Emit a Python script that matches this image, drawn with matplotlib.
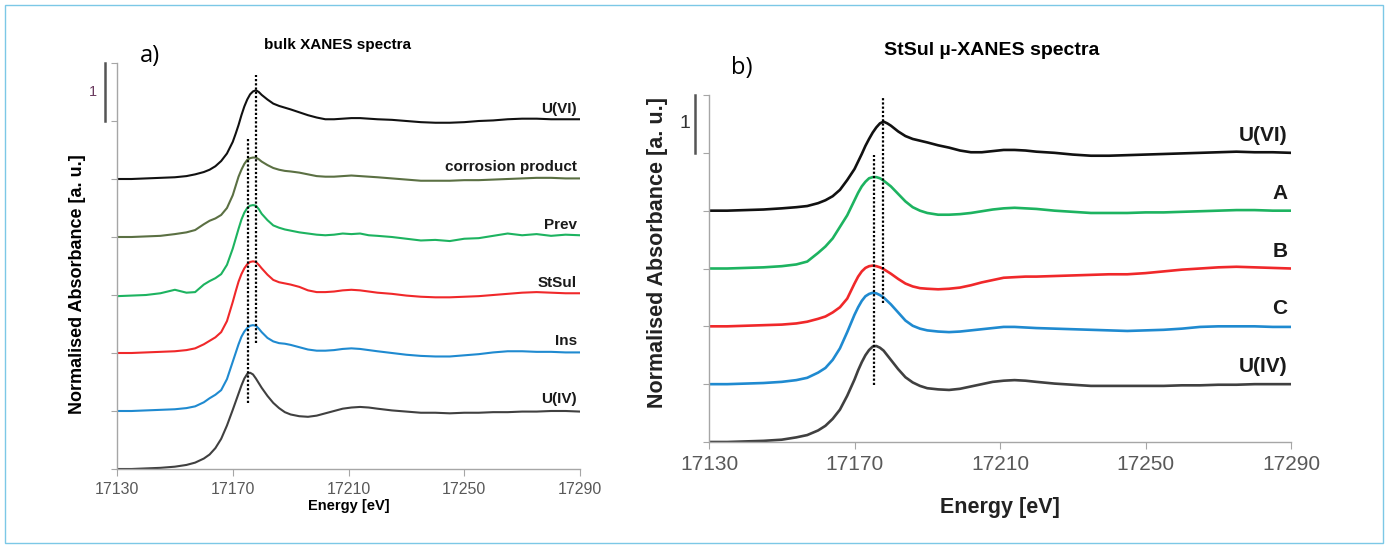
"""Espectros XANES empilhados: (a) bulk e (b) StSul micro-XANES."""
import matplotlib
matplotlib.use("Agg")
import matplotlib.pyplot as plt
import matplotlib.transforms as mtransforms
from matplotlib.patches import Rectangle

plt.rcParams["font.family"] = ["Liberation Sans", "DejaVu Sans"]

# grade de energia comum (eV)
energy = [17130, 17135, 17140, 17145, 17150, 17154, 17157, 17160, 17162, 17164,
          17166, 17168, 17170, 17171, 17172, 17173, 17174, 17175, 17176, 17177,
          17178, 17179, 17180, 17182, 17184, 17186, 17188, 17190, 17193, 17196,
          17199, 17202, 17205, 17208, 17211, 17214, 17217, 17220, 17225, 17230,
          17235, 17240, 17245, 17250, 17255, 17260, 17265, 17270, 17275, 17280,
          17285, 17290]

# --- painel a (de baixo para cima) ---
a_names = ["U(IV)", "Ins", "StSul", "Prev", "corrosion product", "U(VI)"]
a_colors = ["#404040", "#1f8ad0", "#f0282a", "#1db360", "#5b7043", "#111111"]
a_uiv = [0.00, 0.00, 0.01, 0.02, 0.04, 0.07, 0.11, 0.18, 0.25, 0.36,
         0.52, 0.75, 1.02, 1.16, 1.30, 1.44, 1.56, 1.64, 1.66, 1.63,
         1.56, 1.48, 1.40, 1.26, 1.14, 1.05, 0.98, 0.94, 0.91, 0.90,
         0.92, 0.96, 1.00, 1.04, 1.06, 1.07, 1.06, 1.04, 1.01, 0.99,
         0.97, 0.97, 0.96, 0.97, 0.97, 0.98, 0.98, 0.99, 0.99, 1.00,
         1.00, 0.99]
a_ins = [0.00, 0.00, 0.01, 0.02, 0.03, 0.05, 0.08, 0.15, 0.22, 0.28,
         0.36, 0.55, 0.85, 1.00, 1.15, 1.28, 1.37, 1.43, 1.47, 1.48,
         1.47, 1.42, 1.36, 1.26, 1.20, 1.17, 1.16, 1.14, 1.10, 1.06,
         1.04, 1.04, 1.05, 1.07, 1.08, 1.07, 1.05, 1.03, 1.00, 0.97,
         0.95, 0.94, 0.94, 0.96, 0.98, 1.01, 1.03, 1.03, 1.02, 1.02,
         1.01, 1.01]
a_stsul = [0.00, 0.00, 0.01, 0.02, 0.03, 0.05, 0.08, 0.15, 0.21, 0.27,
           0.36, 0.55, 0.88, 1.06, 1.23, 1.36, 1.46, 1.53, 1.57, 1.58,
           1.57, 1.52, 1.46, 1.35, 1.26, 1.22, 1.20, 1.18, 1.14, 1.08,
           1.05, 1.05, 1.06, 1.08, 1.09, 1.08, 1.06, 1.04, 1.02, 0.99,
           0.97, 0.96, 0.96, 0.97, 0.98, 1.00, 1.02, 1.04, 1.05, 1.04,
           1.03, 1.03]
a_prev = [-0.02, -0.01, 0.00, 0.03, 0.09, 0.04, 0.05, 0.18, 0.24, 0.29,
          0.36, 0.52, 0.80, 0.97, 1.14, 1.30, 1.42, 1.50, 1.54, 1.55,
          1.54, 1.48, 1.40, 1.29, 1.20, 1.16, 1.13, 1.11, 1.08, 1.06,
          1.04, 1.03, 1.04, 1.06, 1.05, 1.06, 1.03, 1.02, 1.00, 0.97,
          0.94, 0.95, 0.93, 0.97, 0.98, 1.02, 1.06, 1.03, 1.05, 1.02,
          1.04, 1.03]
a_corr = [0.00, 0.00, 0.01, 0.02, 0.05, 0.08, 0.12, 0.22, 0.28, 0.32,
          0.38, 0.50, 0.72, 0.88, 1.04, 1.16, 1.26, 1.33, 1.36, 1.37,
          1.37, 1.34, 1.30, 1.24, 1.19, 1.16, 1.14, 1.13, 1.11, 1.08,
          1.05, 1.04, 1.04, 1.05, 1.06, 1.05, 1.04, 1.03, 1.01, 0.99,
          0.97, 0.97, 0.97, 0.98, 0.98, 0.99, 1.00, 1.01, 1.02, 1.02,
          1.01, 1.01]
a_uvi = [0.00, 0.00, 0.01, 0.02, 0.03, 0.05, 0.08, 0.12, 0.16, 0.22,
         0.31, 0.44, 0.64, 0.78, 0.93, 1.10, 1.25, 1.37, 1.46, 1.51,
         1.53, 1.50, 1.45, 1.37, 1.30, 1.26, 1.23, 1.20, 1.15, 1.10,
         1.06, 1.03, 1.03, 1.04, 1.05, 1.05, 1.04, 1.03, 1.02, 1.00,
         0.98, 0.97, 0.97, 0.98, 1.00, 1.01, 1.03, 1.04, 1.04, 1.03,
         1.03, 1.03]
# linhas pontilhadas: energia, y inicial, y final
a_marks = [(17175.3, 1.14, 5.71), (17178.0, 2.17, 6.79)]

# --- painel b (de baixo para cima) ---
b_names = ["U(IV)", "C", "B", "A", "U(VI)"]
b_colors = ["#404040", "#1f8ad0", "#f0282a", "#1db360", "#111111"]
b_uiv = [0.00, 0.00, 0.01, 0.02, 0.04, 0.08, 0.12, 0.20, 0.28, 0.40,
         0.56, 0.80, 1.08, 1.24, 1.38, 1.50, 1.59, 1.65, 1.66, 1.63,
         1.58, 1.50, 1.42, 1.26, 1.12, 1.03, 0.97, 0.93, 0.91, 0.90,
         0.92, 0.96, 1.00, 1.04, 1.06, 1.07, 1.06, 1.04, 1.01, 0.99,
         0.97, 0.97, 0.97, 0.97, 0.97, 0.98, 0.98, 0.99, 0.99, 1.00,
         1.00, 1.00]
b_c = [0.00, 0.00, 0.01, 0.02, 0.04, 0.07, 0.11, 0.20, 0.28, 0.42,
       0.62, 0.90, 1.20, 1.33, 1.44, 1.52, 1.56, 1.58, 1.57, 1.54,
       1.50, 1.44, 1.38, 1.24, 1.10, 1.01, 0.96, 0.93, 0.91, 0.90,
       0.91, 0.93, 0.95, 0.97, 0.99, 0.99, 0.98, 0.97, 0.96, 0.95,
       0.94, 0.93, 0.92, 0.93, 0.94, 0.96, 0.99, 1.00, 1.00, 1.00,
       0.99, 0.99]
b_b = [0.00, 0.00, 0.01, 0.02, 0.03, 0.05, 0.08, 0.13, 0.17, 0.24,
       0.33, 0.48, 0.74, 0.86, 0.95, 1.01, 1.04, 1.05, 1.04, 1.02,
       0.99, 0.95, 0.91, 0.82, 0.74, 0.69, 0.66, 0.65, 0.64, 0.65,
       0.67, 0.71, 0.76, 0.80, 0.84, 0.85, 0.86, 0.86, 0.87, 0.88,
       0.89, 0.90, 0.90, 0.92, 0.95, 0.98, 1.00, 1.02, 1.03, 1.02,
       1.01, 1.00]
b_a = [0.00, 0.00, 0.01, 0.02, 0.04, 0.07, 0.12, 0.27, 0.38, 0.52,
       0.72, 0.92, 1.18, 1.31, 1.42, 1.50, 1.56, 1.58, 1.58, 1.56,
       1.52, 1.47, 1.42, 1.29, 1.16, 1.06, 1.00, 0.96, 0.93, 0.93,
       0.94, 0.96, 0.99, 1.02, 1.04, 1.05, 1.04, 1.03, 1.00, 0.98,
       0.96, 0.96, 0.96, 0.97, 0.97, 0.98, 0.99, 1.00, 1.01, 1.01,
       1.00, 1.00]
b_uvi = [0.00, 0.00, 0.01, 0.02, 0.04, 0.06, 0.08, 0.13, 0.18, 0.25,
         0.36, 0.53, 0.72, 0.85, 0.98, 1.12, 1.24, 1.35, 1.44, 1.51,
         1.54, 1.51, 1.47, 1.37, 1.29, 1.24, 1.21, 1.18, 1.13, 1.09,
         1.04, 1.01, 1.01, 1.03, 1.05, 1.05, 1.04, 1.02, 1.00, 0.97,
         0.95, 0.95, 0.96, 0.97, 0.98, 0.99, 1.00, 1.01, 1.02, 1.01,
         1.01, 1.00]
b_marks = [(17175.4, 0.99, 4.97), (17177.75, 2.40, 5.95)]

xticks = [17130, 17170, 17210, 17250, 17290]
GRAY = "#a6a6a6"
TXT = "#595959"


def _draw(ax, curves, names, colors, marks, lw, lab_fs, lab_dy, tick_fs,
          bar_x, one_x, one_color):
    n = len(curves)
    for k, (y, name, c) in enumerate(zip(curves, names, colors)):
        ax.plot(energy, [v + k for v in y], color=c, lw=lw,
                solid_joinstyle="round", solid_capstyle="round")
        ax.text(17289, k + 1 + lab_dy, name, ha="right", va="center",
                fontsize=lab_fs, fontweight="bold", color="#1a1a1a")
    for e, y0, y1 in marks:
        ax.plot([e, e], [y0, y1], color="black", lw=1.6, ls=(0, (1, 0.9)))

    ax.set_xlim(17130, 17290)
    ax.set_ylim(0, n + 1)
    ax.set_xticks(xticks)
    ax.set_yticks(range(n + 2))
    ax.set_yticklabels([])
    for s in ("top", "right"):
        ax.spines[s].set_visible(False)
    for s in ("left", "bottom"):
        ax.spines[s].set_color(GRAY)
        ax.spines[s].set_linewidth(1.0)
    ax.tick_params(axis="x", length=5, color=GRAY, labelsize=tick_fs,
                   labelcolor=TXT, pad=4)
    ax.tick_params(axis="y", length=4, color=GRAY)

    # barra de escala "1"
    tr = mtransforms.blended_transform_factory(ax.transAxes, ax.transData)
    ax.plot([bar_x, bar_x], [n, n + 1], transform=tr, color="#555555",
            lw=1.8, clip_on=False)
    ax.text(one_x, n + 0.5, "1", transform=tr, ha="center", va="center",
            fontsize=tick_fs - 1, color=one_color)


def main():
    W, H = 1388, 548
    fig = plt.figure(figsize=(W / 100, H / 100), dpi=100)

    # moldura azul clara
    fig.patches.append(Rectangle((5 / W, 5 / H), 1378 / W, 538 / H,
                                 transform=fig.transFigure, fill=False,
                                 edgecolor="#7cc8e6", lw=1.0))

    ax_a = fig.add_axes([117 / W, 1 - 469 / H, 463 / W, 406 / H])
    _draw(ax_a, [a_uiv, a_ins, a_stsul, a_prev, a_corr, a_uvi], a_names,
          a_colors, a_marks, lw=1.5, lab_fs=11, lab_dy=0.2, tick_fs=11.5,
          bar_x=-0.026, one_x=-0.052, one_color="#6a3a5e")

    ax_b = fig.add_axes([709 / W, 1 - 442 / H, 582 / W, 347 / H])
    _draw(ax_b, [b_uiv, b_c, b_b, b_a, b_uvi], b_names, b_colors, b_marks,
          lw=1.9, lab_fs=15, lab_dy=0.3, tick_fs=15,
          bar_x=-0.024, one_x=-0.042, one_color="#333333")

    # textos
    fig.text(150 / W, 1 - 56 / H, "a)", fontsize=17, ha="center", va="center",
             family=["Open Sans", "DejaVu Sans"])
    fig.text(742 / W, 1 - 68 / H, "b)", fontsize=17, ha="center", va="center",
             family=["Open Sans", "DejaVu Sans"])
    fig.text(337 / W, 1 - 45 / H, "bulk XANES spectra", fontsize=11,
             fontweight="bold", ha="center", va="center")
    fig.text(992 / W, 1 - 50 / H, "StSul µ-XANES spectra", fontsize=14,
             fontweight="bold", ha="center", va="center")
    fig.text(78 / W, 1 - 284 / H, "Normalised Absorbance [a. u.]", fontsize=13,
             fontweight="bold", rotation=90, ha="center", va="center")
    fig.text(658 / W, 1 - 252 / H, "Normalised Absorbance [a. u.]", fontsize=15.5,
             fontweight="bold", rotation=90, ha="center", va="center", color="#222222")
    fig.text(349 / W, 1 - 506 / H, "Energy [eV]", fontsize=10.5,
             fontweight="bold", ha="center", va="center")
    fig.text(1000 / W, 1 - 508 / H, "Energy [eV]", fontsize=15.5,
             fontweight="bold", ha="center", va="center", color="#222222")

    fig.savefig("out.png", dpi=100)
    plt.close(fig)


if __name__ == "__main__":
    main()
